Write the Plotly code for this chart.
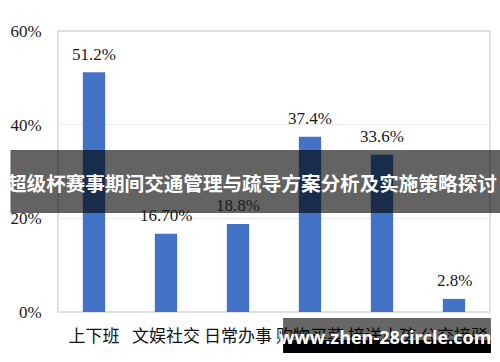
import plotly.graph_objects as go

categories = ["上下班", "文娱社交", "日常办事", "购物买菜", "接送小孩", "公交接驳"]
values = [51.2, 16.7, 18.8, 37.4, 33.6, 2.8]
value_labels = ["51.2%", "16.70%", "18.8%", "37.4%", "33.6%", "2.8%"]
tick_vals = [0, 20, 40, 60]
tick_text = ["0%", "20%", "40%", "60%"]
title_text = "超级杯赛事期间交通管理与疏导方案分析及实施策略探讨"
watermark = "www.zhen-28circle.com"

fig = go.Figure(go.Bar(x=categories, y=values, marker=dict(color="#4472C4", line=dict(width=0)),
                       hoverinfo="skip"))

for c, v, t in zip(categories, values, value_labels):
    fig.add_annotation(x=c, y=v, text=t, showarrow=False, yanchor="middle", yshift=18,
                       font=dict(family="Liberation Serif", size=17, color="#1a1a1a"))

# plot border
fig.add_shape(type="rect", xref="paper", yref="paper", x0=0, x1=1, y0=0, y1=1,
              line=dict(color="#d6d6d6", width=1.5), layer="below")
# title banner
fig.add_shape(type="rect", xref="paper", yref="paper", x0=-0.11, x1=1.03, y0=0.352, y1=0.5765,
              fillcolor="rgba(0,0,0,0.61)", line=dict(width=0), layer="above")
fig.add_annotation(xref="paper", yref="paper", x=0.449, y=0.4626, text="<b>" + title_text + "</b>",
                   showarrow=False, xanchor="center", yanchor="middle",
                   font=dict(family="Noto Sans CJK SC", size=19.6, color="white"))
# watermark
fig.add_shape(type="rect", xref="paper", yref="paper", x0=0.521, x1=1.0022, y0=-0.0996, y1=-0.0214,
              fillcolor="rgba(0,0,0,0.6)", line=dict(width=0), layer="above")
fig.add_shape(type="rect", xref="paper", yref="paper", x0=0.521, x1=1.0022, y0=-0.1459, y1=-0.0996,
              fillcolor="black", line=dict(width=0), layer="above")
fig.add_annotation(xref="paper", yref="paper", x=0.758, y=-0.089, text="<b>" + watermark + "</b>",
                   showarrow=False, xanchor="center", yanchor="middle",
                   font=dict(family="Open Sans", size=18, color="white"))

fig.update_layout(
    width=500, height=362,
    margin=dict(l=45, r=10, t=31, b=50),
    paper_bgcolor="white", plot_bgcolor="white",
    bargap=0.69, showlegend=False,
    xaxis=dict(showgrid=False, showline=False, ticks="outside", ticklen=9,
               tickcolor="rgba(0,0,0,0)", zeroline=False,
               tickfont=dict(family="Noto Sans CJK SC", size=17, color="#111111")),
    yaxis=dict(range=[0, 60], tickvals=tick_vals, ticktext=tick_text, showgrid=True,
               gridcolor="#ececec", gridwidth=1, zeroline=False, showline=False,
               ticks="outside", ticklen=12, tickcolor="rgba(0,0,0,0)",
               tickfont=dict(family="Liberation Serif", size=17, color="#1a1a1a")),
)

fig.write_html("out.html")
